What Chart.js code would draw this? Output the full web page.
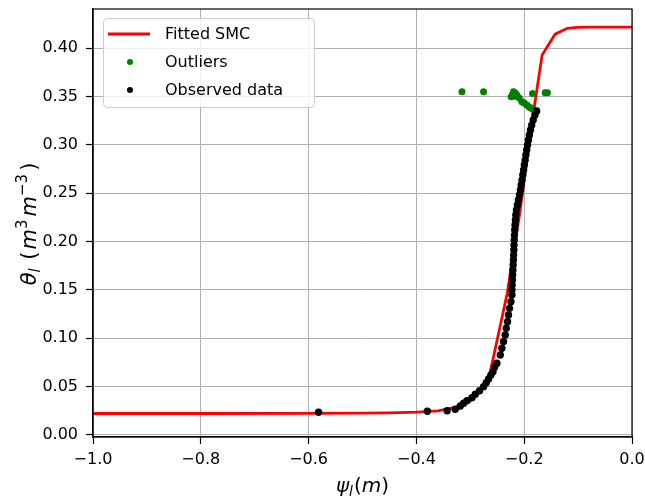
<!DOCTYPE html>
<html><head><meta charset="utf-8">
<script src="https://cdn.jsdelivr.net/npm/chart.js@4"></script>
<style>html,body{margin:0;padding:0;background:#fff}#wrap{width:645px;height:499px;position:relative}</style>
</head><body><div id="wrap"><canvas id="c" width="645" height="499"></canvas></div>
<script>
// ---- data ----
const seriesLabels = ['Fitted SMC', 'Outliers', 'Observed data'];
const xTicks = [-1.0, -0.8, -0.6, -0.4, -0.2, 0.0];
const yTicks = [0.00, 0.05, 0.10, 0.15, 0.20, 0.25, 0.30, 0.35, 0.40];

const fitPsi   = [-1.0, -0.8, -0.6, -0.5, -0.45, -0.4, -0.36, -0.33, -0.30, -0.28, -0.263, -0.2315, -0.2074, -0.187, -0.1667, -0.1426, -0.120, -0.102, -0.08, 0.0];
const fitTheta = [0.0222, 0.0222, 0.0223, 0.0225, 0.0229, 0.0237, 0.0250, 0.0282, 0.0350, 0.0460, 0.0650, 0.1467, 0.2326, 0.3184, 0.3932, 0.4147, 0.4207, 0.4217, 0.4220, 0.4220];

const outPsi   = [-0.3154, -0.2754, -0.2241, -0.2220, -0.2198, -0.2180, -0.2167, -0.2135, -0.2093, -0.2043, -0.2000, -0.1950, -0.1907, -0.1870, -0.1833, -0.1796, -0.1846, -0.1611, -0.1569];
const outTheta = [0.3550, 0.3550, 0.3499, 0.3520, 0.3550, 0.3505, 0.3537, 0.3517, 0.3486, 0.3447, 0.3434, 0.3413, 0.3392, 0.3379, 0.3366, 0.3354, 0.3534, 0.3540, 0.3540];

const obsPsi = [-0.5815, -0.3796, -0.3430, -0.3280, -0.3185, -0.3124, -0.3061, -0.2969, -0.2907, -0.2828, -0.2754, -0.2704, -0.2661, -0.2617, -0.2580, -0.2550, -0.2506, -0.2444, -0.2413, -0.2383, -0.2352, -0.2333, -0.2309, -0.2291, -0.2272, -0.2246, -0.2228, -0.2228, -0.2224, -0.2219, -0.2214, -0.2210, -0.2205, -0.2200, -0.2196, -0.2192, -0.2189, -0.2185, -0.2181, -0.2176, -0.2170, -0.2163, -0.2156, -0.2144, -0.2126, -0.2107, -0.2087, -0.2070, -0.2056, -0.2041, -0.2026, -0.2011, -0.1998, -0.1983, -0.1969, -0.1954, -0.1939, -0.1922, -0.1904, -0.1883, -0.1861, -0.1833, -0.1800, -0.1769];
const obsTheta = [0.0235, 0.0245, 0.0251, 0.0266, 0.0300, 0.0328, 0.0355, 0.0386, 0.0421, 0.0458, 0.0500, 0.0541, 0.0580, 0.0621, 0.0655, 0.0700, 0.0742, 0.0828, 0.0897, 0.0966, 0.1035, 0.1104, 0.1172, 0.1241, 0.1310, 0.1379, 0.1448, 0.1500, 0.1551, 0.1603, 0.1655, 0.1706, 0.1758, 0.1810, 0.1861, 0.1913, 0.1965, 0.2017, 0.2068, 0.2120, 0.2172, 0.2224, 0.2275, 0.2327, 0.2379, 0.2431, 0.2482, 0.2534, 0.2586, 0.2637, 0.2689, 0.2741, 0.2793, 0.2844, 0.2896, 0.2948, 0.2999, 0.3051, 0.3103, 0.3155, 0.3206, 0.3258, 0.3310, 0.3351];

// ---- helpers ----
const FONT = "'DejaVu Sans', sans-serif";
const pts = (xs, ys) => xs.map((x, i) => ({x: x, y: ys[i]}));
const fmt = (v, d) => { const s = Number(v).toFixed(d); return (Number(s) < 0 ? '\u2212' + s.slice(1) : s.replace('-', '')); };

function drawRich(ctx, parts, cx, baseY) {
  let total = 0;
  parts.forEach(p => { ctx.font = (p.italic ? 'italic ' : '') + p.size + 'px ' + FONT; p.w = ctx.measureText(p.t).width + (p.gap || 0); total += p.w; });
  let x = cx - total / 2;
  ctx.textAlign = 'left'; ctx.textBaseline = 'alphabetic'; ctx.fillStyle = '#000';
  parts.forEach(p => { ctx.font = (p.italic ? 'italic ' : '') + p.size + 'px ' + FONT; ctx.fillText(p.t, x, baseY + (p.dy || 0)); x += p.w; });
}

const framePlugin = {
  id: 'frame',
  afterDatasetsDraw(chart) {
    const a = chart.chartArea, ctx = chart.ctx;
    ctx.save(); ctx.strokeStyle = '#000'; ctx.lineWidth = 1.2;
    ctx.strokeRect(a.left, a.top, a.right - a.left, a.bottom - a.top);
    ctx.restore();
  }
};

const labelPlugin = {
  id: 'axlabels',
  afterDraw(chart) {
    const ctx = chart.ctx, a = chart.chartArea;
    ctx.save();
    drawRich(ctx, [
      {t: '\u03C8', size: 20, italic: true},
      {t: 'l', size: 14, italic: true, dy: 4, gap: 1},
      {t: '(', size: 20},
      {t: 'm', size: 20, italic: true},
      {t: ')', size: 20}
    ], (a.left + a.right) / 2, 492);
    ctx.translate(36, 224);
    ctx.rotate(-Math.PI / 2);
    drawRich(ctx, [
      {t: '\u03B8', size: 21, italic: true},
      {t: 'l', size: 15, italic: true, dy: 4, gap: 2},
      {t: ' (', size: 21, gap: 2},
      {t: 'm', size: 21, italic: true},
      {t: '3', size: 15, dy: -9, gap: 3},
      {t: 'm', size: 21, italic: true},
      {t: '\u22123', size: 15, dy: -9, gap: 3},
      {t: ')', size: 21}
    ], 0, 0);
    ctx.restore();
  }
};

const legendPlugin = {
  id: 'boxlegend',
  afterDraw(chart) {
    const ctx = chart.ctx, ds = chart.data.datasets;
    ctx.save();
    const bx = 103.5, by = 18.5, bw = 211, bh = 89, r = 4;
    ctx.beginPath();
    ctx.moveTo(bx + r, by); ctx.lineTo(bx + bw - r, by); ctx.quadraticCurveTo(bx + bw, by, bx + bw, by + r);
    ctx.lineTo(bx + bw, by + bh - r); ctx.quadraticCurveTo(bx + bw, by + bh, bx + bw - r, by + bh);
    ctx.lineTo(bx + r, by + bh); ctx.quadraticCurveTo(bx, by + bh, bx, by + bh - r);
    ctx.lineTo(bx, by + r); ctx.quadraticCurveTo(bx, by, bx + r, by); ctx.closePath();
    ctx.fillStyle = 'rgba(255,255,255,0.8)'; ctx.fill();
    ctx.strokeStyle = '#cccccc'; ctx.lineWidth = 1; ctx.stroke();
    const rows = [34, 62, 90];
    ctx.font = '16px ' + FONT; ctx.textAlign = 'left'; ctx.textBaseline = 'middle'; ctx.fillStyle = '#000';
    ds.forEach((d, i) => {
      const y = rows[i];
      if (i === 0) {
        ctx.strokeStyle = d.borderColor; ctx.lineWidth = 3; ctx.beginPath(); ctx.moveTo(108, y); ctx.lineTo(150, y); ctx.stroke();
      } else {
        ctx.fillStyle = d.backgroundColor; ctx.beginPath(); ctx.arc(130, y, 3, 0, Math.PI * 2); ctx.fill();
      }
      ctx.fillStyle = '#000';
      ctx.fillText(d.label, 165, y + 1);
    });
    ctx.restore();
  }
};

new Chart(document.getElementById('c'), {
  type: 'scatter',
  data: {
    datasets: [
      {label: seriesLabels[0], type: 'line', data: pts(fitPsi, fitTheta), borderColor: '#ff0000', backgroundColor: '#ff0000', borderWidth: 2.8, pointRadius: 0, fill: false, tension: 0, showLine: true, order: 3},
      {label: seriesLabels[1], data: pts(outPsi, outTheta), backgroundColor: '#008000', borderWidth: 0, pointRadius: 3.5, order: 2},
      {label: seriesLabels[2], data: pts(obsPsi, obsTheta), backgroundColor: '#000000', borderWidth: 0, pointRadius: 3.7, order: 1}
    ]
  },
  options: {
    responsive: false, animation: false, devicePixelRatio: 1,
    layout: {padding: {left: 0, right: 13, top: 9, bottom: 0}},
    plugins: {legend: {display: false}, tooltip: {enabled: false}},
    scales: {
      x: {
        type: 'linear', min: -1, max: 0, position: 'bottom',
        afterBuildTicks: s => { s.ticks = xTicks.map(v => ({value: v})); },
        afterFit: s => { s.height = 62; s.paddingLeft = 0; s.paddingRight = 0; },
        ticks: {color: '#000', font: {family: FONT, size: 16}, padding: 6, maxRotation: 0, autoSkip: false, callback: v => fmt(v, 1)},
        grid: {color: '#b0b0b0', lineWidth: 1, tickColor: '#000', tickLength: 7, tickWidth: 1.2},
        border: {color: '#000', width: 1.2}
      },
      y: {
        type: 'linear', min: -0.0021, max: 0.4407, position: 'left',
        afterBuildTicks: s => { s.ticks = yTicks.map(v => ({value: v})); },
        afterFit: s => { s.width = 93; s.paddingTop = 0; s.paddingBottom = 0; },
        ticks: {color: '#000', font: {family: FONT, size: 16}, padding: 8, autoSkip: false, callback: v => fmt(v, 2)},
        grid: {color: '#b0b0b0', lineWidth: 1, tickColor: '#000', tickLength: 7, tickWidth: 1.2},
        border: {color: '#000', width: 1.2}
      }
    }
  },
  plugins: [framePlugin, labelPlugin, legendPlugin]
});
</script></body></html>
